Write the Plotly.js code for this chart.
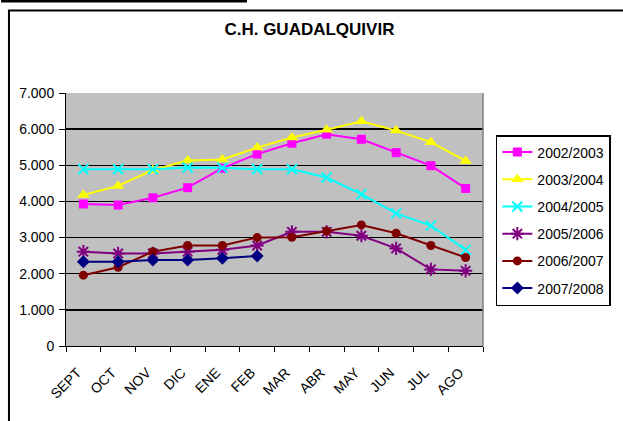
<!DOCTYPE html>
<html>
<head>
<meta charset="utf-8">
<script src="https://cdn.plot.ly/plotly-3.0.1.min.js"></script>
<style>html,body{margin:0;padding:0;background:#fff;}#chart{width:623px;height:421px;}</style>
</head>
<body>
<div id="chart"></div>
<script>
const months = ["SEPT","OCT","NOV","DIC","ENE","FEB","MAR","ABR","MAY","JUN","JUL","AGO"];
const s2002 = [3930, 3900, 4100, 4380, 4920, 5310, 5610, 5860, 5720, 5350, 4990, 4360];
const s2003 = [4180, 4430, 4870, 5130, 5160, 5490, 5770, 5980, 6220, 5960, 5640, 5120];
const s2004 = [4890, 4890, 4890, 4940, 4930, 4890, 4890, 4660, 4200, 3670, 3330, 2660];
const s2005 = [2610, 2560, 2560, 2610, 2660, 2780, 3160, 3160, 3050, 2700, 2120, 2080];
const s2006 = [1960, 2180, 2610, 2780, 2780, 3000, 3010, 3180, 3350, 3120, 2780, 2450];
const s2007 = [2330, 2330, 2380, 2380, 2430, 2490];
const seriesNames = ["2002/2003","2003/2004","2004/2005","2005/2006","2006/2007","2007/2008"];
const yTicks = [0,1000,2000,3000,4000,5000,6000,7000];

function tr(i, y, color, symbol, size, extra) {
  const m = Object.assign({symbol: symbol, size: size, color: color, line: {width: 0, color: color}}, extra || {});
  return {
    type: 'scatter', mode: 'lines+markers', name: seriesNames[i], legendgroup: 'g' + i,
    x: months.slice(0, y.length), y: y,
    line: {color: color, width: 2},
    marker: m
  };
}

const data = [
  tr(0, s2002, '#FF00FF', 'square', 9),
  tr(1, s2003, '#FFFF00', 'triangle-up', 11),
  tr(2, s2004, '#00FFFF', 'x-thin-open', 10, {line: {width: 2, color: '#00FFFF'}}),
  tr(3, s2005, '#800080', 'asterisk-open', 11, {line: {width: 2, color: '#800080'}}),
  tr(4, s2006, '#800000', 'circle', 9),
  tr(5, s2007, '#000080', 'diamond', 10)
];

const W = 623, H = 421, L = 66, R = 133, T = 93, B = 75;
const pw = W - L - R, ph = H - T - B;
function px(x){ return (x - L) / pw; }
function py(y){ return (H - B - y) / ph; }

const FONT = 'Liberation Sans, Arial, sans-serif';

const layout = {
  width: W, height: H,
  margin: {l: L, r: R, t: T, b: B, pad: 0},
  paper_bgcolor: '#FFFFFF',
  plot_bgcolor: '#C0C0C0',
  font: {family: FONT, color: '#000', size: 14},
  separators: ',.',
  title: {
    text: '<b>C.H. GUADALQUIVIR</b>',
    font: {family: FONT, size: 17, color: '#000'},
    xref: 'paper', x: px(313.5), xanchor: 'center',
    yref: 'container', y: 1 - 29.5 / H, yanchor: 'middle'
  },
  xaxis: {
    type: 'category',
    categoryorder: 'array', categoryarray: months,
    range: [-0.5, 11.5],
    showline: true, linecolor: '#000', linewidth: 1,
    ticks: 'outside', ticklen: 5, tickcolor: '#000', tickwidth: 1,
    tickson: 'boundaries',
    tickangle: -45,
    ticklabelstandoff: 12,
    ticklabelshift: -6,
    tickfont: {size: 14, family: FONT},
    showgrid: false, zeroline: false, fixedrange: true
  },
  yaxis: {
    range: [0, 7000],
    tickvals: yTicks,
    tickformat: ',d',
    showline: true, linecolor: '#000', linewidth: 1,
    ticks: 'outside', ticklen: 6, tickcolor: '#000', tickwidth: 1,
    ticklabelstandoff: 2,
    showgrid: true, gridcolor: '#000', gridwidth: 1.5,
    zeroline: false,
    tickfont: {size: 14},
    fixedrange: true
  },
  legend: {
    x: px(620), xanchor: 'right', y: py(135), yanchor: 'top',
    bgcolor: '#FFFFFF', bordercolor: '#000', borderwidth: 1.5,
    font: {size: 14, family: FONT},
    tracegroupgap: 6, itemwidth: 30
  },
  showlegend: true,
  shapes: [
    {type: 'line', xref: 'paper', yref: 'paper', x0: 1, x1: 1, y0: 0, y1: 1, line: {color: '#808080', width: 1.5}},
    {type: 'rect', xref: 'paper', yref: 'paper', x0: px(8), x1: px(640), y0: py(10.5), y1: py(440), line: {color: '#000', width: 2}},
    {type: 'line', xref: 'paper', yref: 'paper', x0: px(0), x1: px(250), y0: py(1), y1: py(1), line: {color: '#000', width: 3}}
  ]
};

Plotly.newPlot('chart', data, layout, {staticPlot: true, displayModeBar: false});
</script>
</body>
</html>
